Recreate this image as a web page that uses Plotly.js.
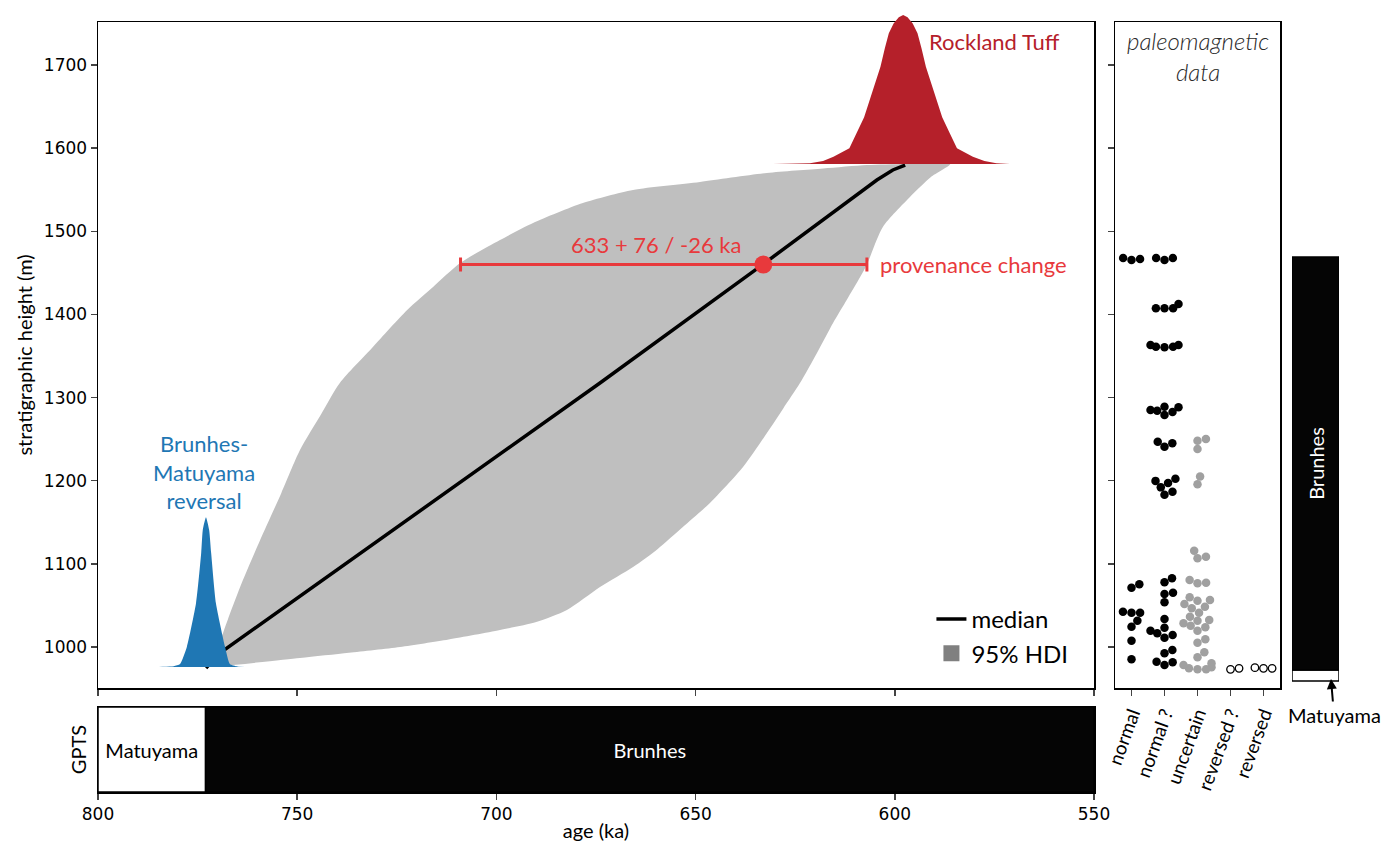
<!DOCTYPE html>
<html>
<head>
<meta charset="utf-8">
<script src="https://cdn.plot.ly/plotly-3.0.1.min.js"></script>
<style>html,body{margin:0;padding:0;background:#fff;}#chart{width:1384px;height:842px;}</style>
</head>
<body>
<div id="chart"></div>
<script>
// ---------------- data ----------------
const ageTicks = [800, 750, 700, 650, 600, 550];
const heightTicks = [1000, 1100, 1200, 1300, 1400, 1500, 1600, 1700];

// 95% HDI of age model: older (left) boundary bottom->top, younger (right) boundary top->bottom
const hdiOldAge    = [770.6, 769.4, 764.5, 759.3, 754.0, 749.3, 744.0, 739.3, 731.0, 722.4, 715.9, 709.1, 699.1, 690.8, 678.3, 665.7, 648.9, 632.1, 618.0, 607.0, 597.4];
const hdiOldHeight = [975.9, 1004.8, 1070.0, 1128.7, 1185.0, 1236.9, 1280.0, 1317.5, 1360.8, 1405.3, 1433.0, 1461.8, 1489.5, 1510.0, 1534.0, 1549.7, 1559.3, 1570.1, 1575.5, 1579.7, 1581.0];
const hdiYoungAge    = [586.1, 591.0, 596.2, 603.0, 607.0, 608.7, 612.0, 615.5, 619.5, 623.8, 628.0, 632.1, 638.1, 646.4, 653.2, 659.5, 665.7, 674.0, 682.3, 690.0, 699.1, 712.0, 724.2, 737.0, 749.3, 766.1];
const hdiYoungHeight = [1581.0, 1565.0, 1541.2, 1505.1, 1460.0, 1445.0, 1418.0, 1389.7, 1354.0, 1317.5, 1287.0, 1257.4, 1216.5, 1173.2, 1144.3, 1118.0, 1096.2, 1072.1, 1044.5, 1030.0, 1020.4, 1009.0, 1000.0, 993.0, 986.7, 978.3];

// median age model
const medianAge    = [772.9, 769.4, 674.0, 633.0, 604.5, 600.5, 597.4];
const medianHeight = [974.7, 992.8, 1317.5, 1460.6, 1561.7, 1573.7, 1579.7];

// Brunhes-Matuyama reversal age distribution (drawn on stratigraphic baseline)
const bmAge    = [798.7, 786.9, 781.0, 779.4, 777.7, 775.4, 774.1, 773.7, 772.9, 772.1, 771.6, 770.4, 768.1, 766.9, 765.0, 762.0];
const bmHeight = [975.9, 975.9, 977.0, 979.5, 1000.0, 1052.5, 1113.0, 1140.7, 1156.0, 1140.7, 1113.0, 1052.5, 1000.0, 979.5, 976.5, 975.9];

// Rockland Tuff age distribution
const rtAge    = [630.6, 621.3, 618.0, 615.4, 611.4, 609.6, 607.7, 606.3, 605.0, 603.6, 602.5, 601.5, 600.3, 599.0, 597.9, 596.8, 595.5, 594.3, 593.3, 592.2, 590.8, 589.5, 588.1, 586.2, 584.4, 580.4, 577.5, 574.5, 571.1];
const rtHeight = [1581.0, 1581.8, 1584.5, 1589.7, 1600.0, 1617.9, 1637.0, 1657.9, 1677.0, 1698.0, 1720.0, 1738.1, 1750.0, 1757.5, 1760.0, 1757.5, 1750.0, 1738.1, 1720.0, 1698.0, 1677.0, 1657.9, 1637.0, 1617.9, 1600.0, 1589.7, 1584.5, 1581.8, 1581.0];

// provenance change age estimate
const provAge = [633];
const provHeight = [1460];
const provPlus = [76];
const provMinus = [26];

// GPTS chrons (ka)
const gptsNames = ['Matuyama', 'Brunhes'];
const gptsOld   = [800, 773];
const gptsYoung = [773, 550];

// paleomagnetic data: categories and site heights (m)
const paleoCategories = ['normal', 'normal ?', 'uncertain', 'reversed ?', 'reversed'];
const normalH = [1466.7, 1465.5, 1467.9, 1075.4, 1071.3, 1042.5, 1041.3, 1041.3, 1031.6, 1024.4, 1007.6, 985.2];
const normalQH = [1467.9, 1465.5, 1467.9, 1412.5, 1407.4, 1407.4, 1407.4, 1363.2, 1363.2, 1361.2, 1361.2, 1360.5,
  1289.0, 1284.2, 1279.0, 1282.6, 1285.0, 1288.3, 1245.0, 1240.9, 1247.0, 1202.4, 1197.3, 1192.0, 1199.8, 1186.8, 1183.1,
  1082.6, 1077.8, 1063.7, 1065.3, 1053.8, 1033.7, 1023.2, 1014.4, 1011.2, 1016.5, 1019.6, 996.4, 992.4, 981.6, 978.4, 982.3];
const uncertainH = [1250.2, 1248.1, 1238.1, 1205.1, 1195.7, 1108.6, 1106.7, 1115.8, 1077.3, 1076.6, 1080.6, 1056.5, 1051.7,
  1055.7, 1059.8, 1041.3, 1046.5, 1048.5, 1031.6, 1036.4, 1032.5, 1023.7, 1019.6, 1025.6, 1028.5, 1009.3, 1005.2, 993.6,
  987.6, 980.4, 975.6, 973.2, 973.2, 974.4, 978.4];
const reversedQH = [974.4, 973.2];
const reversedH = [974.4, 974.4, 975.1];

// stratigraphic polarity column (m)
const stratNames  = ['Matuyama', 'Brunhes'];
const stratBottom = [959.1, 972.3];
const stratTop    = [972.3, 1469.1];

// ---------------- layout helpers ----------------
const W = 1384, H = 842;
const mainX = [98 / W, 1094 / W];
const mainY = [1 - 688 / H, 1 - 22 / H];
const yRange = [950.7, 1751.7];
const paleoX = [1115 / W, 1280 / W];
const pxPerM = (688 - 22) / (yRange[1] - yRange[0]);
const pxPerCat = (1280 - 1115) / 5;

// beeswarm (seaborn-like) offsets in category units
function swarm(values, d, maxHalf) {
  const order = values.map((v, i) => i).sort((a, b) => values[a] - values[b]);
  const placed = [];
  const out = new Array(values.length).fill(0);
  for (const i of order) {
    const y = values[i] * pxPerM;
    const nb = placed.filter(p => Math.abs(p.y - y) < d);
    const cands = [0];
    nb.forEach(p => {
      const dy = y - p.y;
      const dx = Math.sqrt(Math.max(d * d - dy * dy, 0)) * 1.05;
      cands.push(p.x + dx, p.x - dx);
    });
    cands.sort((a, b) => Math.abs(a) - Math.abs(b));
    let chosen = cands[0];
    for (const c of cands) {
      if (nb.every(p => (c - p.x) * (c - p.x) + (y - p.y) * (y - p.y) >= d * d - 0.01)) { chosen = c; break; }
    }
    placed.push({ x: chosen, y: y });
    out[i] = Math.max(-maxHalf, Math.min(maxHalf, chosen)) / pxPerCat;
  }
  return out;
}
function paleoX_(vals, idx) {
  const off = swarm(vals, 8.2, 14);
  return vals.map((v, i) => idx + off[i]);
}

const FONT = 'Lato, "Noto Sans", sans-serif';
const TICKFONT = { family: '"DejaVu Sans", sans-serif', size: 17, color: '#000' };
const RED = '#b5202a', BLUE = '#1f77b4', ERR = '#e8393c';

const traces = [
  { // HDI band
    x: hdiOldAge.concat(hdiYoungAge), y: hdiOldHeight.concat(hdiYoungHeight),
    xaxis: 'x', yaxis: 'y', mode: 'lines', fill: 'toself', fillcolor: '#bfbfbf',
    line: { width: 0, color: '#bfbfbf', shape: 'spline', smoothing: 0.7 }, showlegend: false, hoverinfo: 'skip'
  },
  { // median
    x: medianAge, y: medianHeight, xaxis: 'x', yaxis: 'y', mode: 'lines',
    line: { color: '#000', width: 3.5 }, name: 'median', showlegend: true
  },
  { // legend entry for HDI
    x: [null], y: [null], xaxis: 'x', yaxis: 'y', mode: 'markers',
    marker: { symbol: 'square', color: '#808080', size: 24 }, name: '95% HDI', showlegend: true
  },
  { // provenance change
    x: provAge, y: provHeight, xaxis: 'x', yaxis: 'y', mode: 'markers',
    marker: { color: ERR, size: 18 },
    error_x: { type: 'data', array: provPlus, arrayminus: provMinus, color: ERR, thickness: 3, width: 7 },
    showlegend: false
  },
  { // Brunhes-Matuyama reversal
    x: bmAge, y: bmHeight, xaxis: 'x5', yaxis: 'y5', mode: 'lines', fill: 'toself',
    fillcolor: BLUE, line: { width: 0, color: BLUE, shape: 'spline', smoothing: 0.5 }, showlegend: false
  },
  { // Rockland Tuff
    x: rtAge, y: rtHeight, xaxis: 'x5', yaxis: 'y5', mode: 'lines', fill: 'toself',
    fillcolor: RED, line: { width: 0, color: RED, shape: 'linear' }, showlegend: false
  },
  { // GPTS
    type: 'bar', orientation: 'h', xaxis: 'x2', yaxis: 'y2',
    y: [0, 0], base: gptsYoung, x: gptsOld.map((o, i) => o - gptsYoung[i]), width: 1,
    marker: { color: ['#ffffff', '#050505'], line: { color: '#000', width: 1.5 } },
    text: gptsNames, textposition: 'inside', insidetextanchor: 'middle', textangle: 0,
    constraintext: 'none', insidetextfont: { family: FONT, size: 20, color: ['#000', '#fff'] },
    showlegend: false, hoverinfo: 'skip'
  },
  { // paleomag normal
    x: paleoX_(normalH, 0), y: normalH, xaxis: 'x3', yaxis: 'y3', mode: 'markers',
    marker: { color: '#000', size: 8.5 }, showlegend: false
  },
  {
    x: paleoX_(normalQH, 1), y: normalQH, xaxis: 'x3', yaxis: 'y3', mode: 'markers',
    marker: { color: '#000', size: 8.5 }, showlegend: false
  },
  {
    x: paleoX_(uncertainH, 2), y: uncertainH, xaxis: 'x3', yaxis: 'y3', mode: 'markers',
    marker: { color: '#a0a0a0', size: 8.5 }, showlegend: false
  },
  {
    x: paleoX_(reversedQH, 3), y: reversedQH, xaxis: 'x3', yaxis: 'y3', mode: 'markers',
    marker: { color: '#fff', size: 7.5, line: { color: '#000', width: 1.3 } }, showlegend: false
  },
  {
    x: paleoX_(reversedH, 4), y: reversedH, xaxis: 'x3', yaxis: 'y3', mode: 'markers',
    marker: { color: '#fff', size: 7.5, line: { color: '#000', width: 1.3 } }, showlegend: false
  },
  { // stratigraphic polarity column
    type: 'bar', xaxis: 'x4', yaxis: 'y4', x: [0, 0], width: 1,
    base: stratBottom, y: stratTop.map((t, i) => t - stratBottom[i]),
    marker: { color: ['#ffffff', '#050505'], line: { color: '#000', width: 1.5 } },
    text: ['', stratNames[1]], textposition: 'inside', insidetextanchor: 'middle', textangle: -90,
    constraintext: 'none', insidetextfont: { family: FONT, size: 20, color: '#fff' },
    showlegend: false, hoverinfo: 'skip'
  }
];

const axLine = { showline: true, linecolor: '#000', linewidth: 1.5, mirror: true, showgrid: false, zeroline: false };

const layout = {
  width: W, height: H,
  margin: { l: 0, r: 0, t: 0, b: 0, pad: 0 },
  paper_bgcolor: '#fff', plot_bgcolor: 'rgba(0,0,0,0)',
  font: { family: FONT, color: '#000' },
  barmode: 'overlay',
  showlegend: true,
  legend: { x: 0.673, y: 0.291, xanchor: 'left', yanchor: 'top', bgcolor: 'rgba(0,0,0,0)',
            font: { family: FONT, size: 24, color: '#000' }, tracegroupgap: 0 },
  xaxis: Object.assign({}, axLine, { domain: mainX, range: [800, 550], anchor: 'y', ticks: 'outside',
    ticklen: 6, tickwidth: 1.5, tickvals: ageTicks, showticklabels: false }),
  yaxis: Object.assign({}, axLine, { domain: mainY, range: yRange, anchor: 'x', ticks: 'outside',
    ticklen: 6, tickwidth: 1.5, tickvals: heightTicks, tickfont: TICKFONT,
    title: { text: 'stratigraphic height (m)', font: { family: FONT, size: 20 }, standoff: 6 } }),
  xaxis2: Object.assign({}, axLine, { domain: mainX, range: [800, 550], anchor: 'y2', ticks: 'outside',
    ticklen: 6, tickwidth: 1.5, tickvals: ageTicks, tickfont: TICKFONT,
    title: { text: 'age (ka)', font: { family: FONT, size: 20 }, standoff: 2 } }),
  yaxis2: Object.assign({}, axLine, { domain: [1 - 792 / H, 1 - 707 / H], range: [-0.5, 0.5], anchor: 'x2',
    ticks: '', showticklabels: false, fixedrange: true,
    title: { text: 'GPTS', font: { family: FONT, size: 20 }, standoff: 4 } }),
  xaxis3: Object.assign({}, axLine, { domain: paleoX, range: [-0.5, 4.5], anchor: 'y3', ticks: 'outside',
    ticklen: 6, tickwidth: 1.5, tickvals: [0, 1, 2, 3, 4], ticktext: paleoCategories, tickangle: -70,
    tickfont: { family: FONT, size: 19, color: '#000' } }),
  yaxis3: Object.assign({}, axLine, { domain: mainY, range: yRange, anchor: 'x3', ticks: 'outside',
    ticklen: 6, tickwidth: 1.5, tickvals: heightTicks, showticklabels: false }),
  xaxis4: { domain: [1292 / W, 1339 / W], range: [-0.5, 0.5], anchor: 'y4', visible: false },
  yaxis4: { domain: mainY, range: yRange, anchor: 'x4', visible: false },
  xaxis5: { domain: mainX, range: [800, 550], anchor: 'y5', visible: false },
  yaxis5: { domain: [mainY[0], 1], range: [yRange[0], yRange[0] + (H * (1 - mainY[0])) / pxPerM], anchor: 'x5', visible: false },
  annotations: [
    { xref: 'x', yref: 'y', x: 591.9, y: 1727.7, xanchor: 'left', text: 'Rockland Tuff', showarrow: false,
      font: { family: FONT, size: 22, color: RED } },
    { xref: 'x', yref: 'y', x: 773.4, y: 1210.5, text: 'Brunhes-<br>Matuyama<br>reversal', showarrow: false,
      align: 'center', font: { family: FONT, size: 22, color: BLUE } },
    { xref: 'x', yref: 'y', x: 659.9, y: 1483.5, text: '633 + 76 / -26 ka', showarrow: false,
      font: { family: FONT, size: 22, color: ERR } },
    { xref: 'x', yref: 'y', x: 604.2, y: 1460.6, xanchor: 'left', text: 'provenance change', showarrow: false,
      font: { family: FONT, size: 22, color: ERR } },
    { xref: 'x3', yref: 'paper', x: 2, y: 1 - 24 / H, yanchor: 'top', text: 'paleomagnetic<br>data', showarrow: false,
      font: { family: FONT, size: 24, color: '#2a2a2a', style: 'italic', weight: 300 } },
    { xref: 'paper', yref: 'paper', x: 1331 / W, y: 1 - 679 / H, text: 'Matuyama', showarrow: true,
      ax: 3, ay: 36, arrowhead: 2, arrowsize: 1, arrowwidth: 2, arrowcolor: '#000', standoff: 0,
      font: { family: FONT, size: 20, color: '#000' } }
  ]
};

Plotly.newPlot('chart', traces, layout, { staticPlot: true, displayModeBar: false });
</script>
</body>
</html>
